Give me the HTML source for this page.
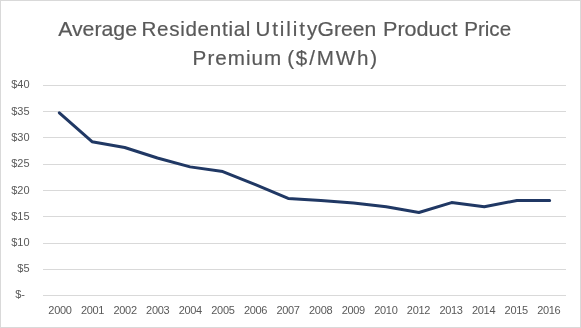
<!DOCTYPE html>
<html><head><meta charset="utf-8"><style>
html,body{margin:0;padding:0;background:#fff;}
svg{display:block;will-change:transform;}
text{font-family:"Liberation Sans",sans-serif;fill:#595959;}
</style></head><body>
<svg width="581" height="328" viewBox="0 0 581 328">
<rect x="0.5" y="0.5" width="580" height="327" fill="#fff" stroke="#d9d9d9" stroke-width="1"/>
<text x="58.2" y="35.7" font-size="20.6" textLength="78.83" lengthAdjust="spacingAndGlyphs" stroke="#595959" stroke-width="0.2">Average</text>
<text x="141.4" y="35.7" font-size="20.6" textLength="109.05" lengthAdjust="spacing" stroke="#595959" stroke-width="0.2">Residential</text>
<text x="255.4" y="35.7" font-size="20.6" textLength="61.83" lengthAdjust="spacing" stroke="#595959" stroke-width="0.2">Utility</text>
<text x="317.6" y="35.7" font-size="20.6" textLength="58.64" lengthAdjust="spacingAndGlyphs" stroke="#595959" stroke-width="0.2">Green</text>
<text x="383.0" y="35.7" font-size="20.6" textLength="74.41" lengthAdjust="spacingAndGlyphs" stroke="#595959" stroke-width="0.2">Product</text>
<text x="464.2" y="35.7" font-size="20.6" textLength="46.89" lengthAdjust="spacingAndGlyphs" stroke="#595959" stroke-width="0.2">Price</text>
<text x="192.6" y="64.6" font-size="20.6" textLength="88.64" lengthAdjust="spacing" stroke="#595959" stroke-width="0.2">Premium</text>
<text x="287.2" y="64.6" font-size="20.6" textLength="89.85" lengthAdjust="spacing" stroke="#595959" stroke-width="0.2">($/MWh)</text>
<g stroke="#d9d9d9" stroke-width="1" shape-rendering="crispEdges">
<line x1="43" x2="566" y1="85.5" y2="85.5" />
<line x1="43" x2="566" y1="111.5" y2="111.5" />
<line x1="43" x2="566" y1="137.5" y2="137.5" />
<line x1="43" x2="566" y1="164.5" y2="164.5" />
<line x1="43" x2="566" y1="190.5" y2="190.5" />
<line x1="43" x2="566" y1="216.5" y2="216.5" />
<line x1="43" x2="566" y1="243.5" y2="243.5" />
<line x1="43" x2="566" y1="269.5" y2="269.5" />
<line x1="43" x2="566" y1="295.5" y2="295.5" />
</g>
<polyline points="59.34,112.80 92.03,141.68 124.72,147.45 157.41,157.95 190.09,166.88 222.78,171.60 255.47,184.72 288.16,198.38 320.84,200.47 353.53,203.10 386.22,206.78 418.91,212.55 451.59,202.57 484.28,206.78 516.97,200.47 549.66,200.47" fill="none" stroke="#203864" stroke-width="3" stroke-linejoin="round" stroke-linecap="round"/>
<g font-size="11">
<text x="29.6" y="88.00" text-anchor="end">$40</text>
<text x="29.6" y="115.00" text-anchor="end">$35</text>
<text x="29.6" y="141.00" text-anchor="end">$30</text>
<text x="29.6" y="167.00" text-anchor="end">$25</text>
<text x="29.6" y="194.00" text-anchor="end">$20</text>
<text x="29.6" y="220.00" text-anchor="end">$15</text>
<text x="29.6" y="246.00" text-anchor="end">$10</text>
<text x="29.6" y="272.00" text-anchor="end">$5</text>
<text x="25.0" y="298.00" text-anchor="end">$-</text>
</g>
<g font-size="11">
<text x="60.10" y="314" text-anchor="middle" textLength="23.5" lengthAdjust="spacing">2000</text>
<text x="92.69" y="314" text-anchor="middle" textLength="23.5" lengthAdjust="spacing">2001</text>
<text x="125.28" y="314" text-anchor="middle" textLength="23.5" lengthAdjust="spacing">2002</text>
<text x="157.87" y="314" text-anchor="middle" textLength="23.5" lengthAdjust="spacing">2003</text>
<text x="190.46" y="314" text-anchor="middle" textLength="23.5" lengthAdjust="spacing">2004</text>
<text x="223.05" y="314" text-anchor="middle" textLength="23.5" lengthAdjust="spacing">2005</text>
<text x="255.64" y="314" text-anchor="middle" textLength="23.5" lengthAdjust="spacing">2006</text>
<text x="288.23" y="314" text-anchor="middle" textLength="23.5" lengthAdjust="spacing">2007</text>
<text x="320.82" y="314" text-anchor="middle" textLength="23.5" lengthAdjust="spacing">2008</text>
<text x="353.41" y="314" text-anchor="middle" textLength="23.5" lengthAdjust="spacing">2009</text>
<text x="386.00" y="314" text-anchor="middle" textLength="23.5" lengthAdjust="spacing">2010</text>
<text x="418.59" y="314" text-anchor="middle" textLength="23.5" lengthAdjust="spacing">2012</text>
<text x="451.18" y="314" text-anchor="middle" textLength="23.5" lengthAdjust="spacing">2013</text>
<text x="483.77" y="314" text-anchor="middle" textLength="23.5" lengthAdjust="spacing">2014</text>
<text x="516.36" y="314" text-anchor="middle" textLength="23.5" lengthAdjust="spacing">2015</text>
<text x="548.95" y="314" text-anchor="middle" textLength="23.5" lengthAdjust="spacing">2016</text>
</g>
</svg>
</body></html>
